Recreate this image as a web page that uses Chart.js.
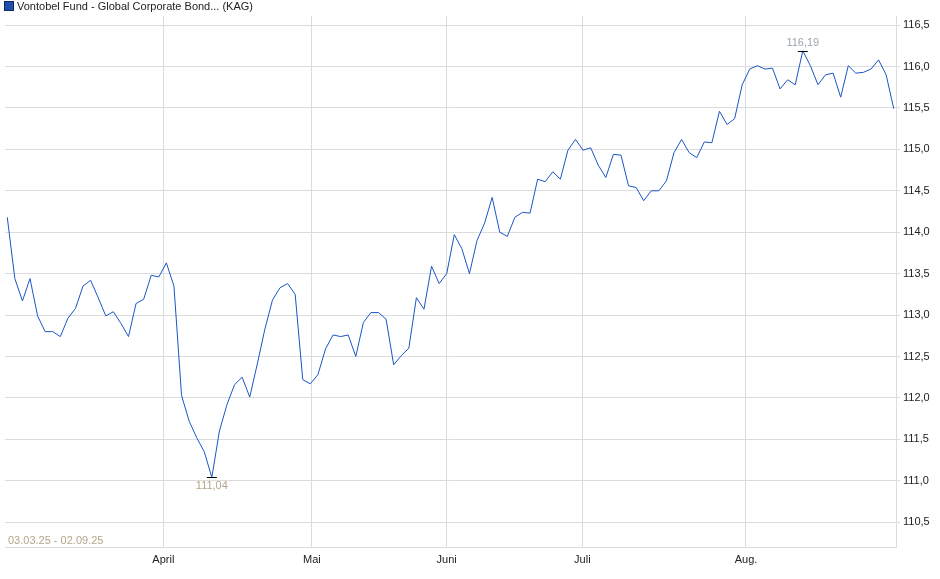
<!DOCTYPE html>
<html>
<head>
<meta charset="utf-8">
<script src="https://cdn.jsdelivr.net/npm/chart.js@4"></script>
<style>
  body { margin: 0; background: #fff; font-family: "Liberation Sans", Arial, sans-serif; }
  #wrap { position: relative; width: 940px; height: 579px; }
  #title { position: absolute; left: 4px; top: 0px; font-size: 11px; color: #222; line-height: 13px; }
  #title span { display: inline-block; width: 8px; height: 8px; background: #1f4fa8; border: 1px solid #0c2a66; margin-right: 3px; vertical-align: -1px; }
</style>
</head>
<body>
<div id="wrap">
  <div id="title"><span></span>Vontobel Fund - Global Corporate Bond... (KAG)</div>
  <canvas id="chart" width="940" height="579"></canvas>
</div>
<script>
// Kursverlauf
const prices = [
  114.18, 113.44, 113.17, 113.44, 112.99, 112.80, 112.80, 112.74, 112.96, 113.08,
  113.35, 113.42, 113.21, 112.99, 113.04, 112.90, 112.74, 113.14, 113.19, 113.48,
  113.46, 113.63, 113.35, 112.03, 111.72, 111.52, 111.35, 111.04, 111.60, 111.92,
  112.16, 112.25, 112.01, 112.41, 112.83, 113.18, 113.33, 113.38, 113.25, 112.22,
  112.17, 112.28, 112.59, 112.76, 112.74, 112.76, 112.50, 112.91, 113.03, 113.03,
  112.95, 112.40, 112.51, 112.60, 113.21, 113.07, 113.59, 113.38, 113.50, 113.97,
  113.80, 113.50, 113.90, 114.11, 114.42, 114.00, 113.95, 114.18, 114.24, 114.23,
  114.64, 114.61, 114.73, 114.64, 114.99, 115.12, 114.99, 115.02, 114.81, 114.66,
  114.94, 114.93, 114.56, 114.54, 114.38, 114.50, 114.50, 114.62, 114.96, 115.12,
  114.96, 114.90, 115.09, 115.08, 115.46, 115.30, 115.37, 115.78, 115.97, 116.01,
  115.97, 115.98, 115.73, 115.84, 115.78, 116.19, 116.01, 115.78, 115.90, 115.92,
  115.63, 116.01, 115.92, 115.93, 115.97, 116.08, 115.90, 115.49
];
const monthLabels = ['April', 'Mai', 'Juni', 'Juli', 'Aug.'];
const monthIndex = [20.6, 40.2, 58.0, 75.9, 97.5];
const yTicks = [110.5, 111.0, 111.5, 112.0, 112.5, 113.0, 113.5, 114.0, 114.5, 115.0, 115.5, 116.0, 116.5];
const periodText = '03.03.25 - 02.09.25';

const fmt = v => v.toFixed(2).replace('.', ',');

// Min/Max-Beschriftung und Zeitraum
const extremaPlugin = {
  id: 'extrema',
  afterDatasetsDraw(chart) {
    const { ctx, scales: { x, y }, chartArea } = chart;
    const maxV = Math.max(...prices), minV = Math.min(...prices);
    const iMax = prices.indexOf(maxV), iMin = prices.indexOf(minV);
    ctx.save();
    ctx.font = '11px "Liberation Sans", Arial, sans-serif';
    ctx.textAlign = 'center';
    ctx.strokeStyle = '#000';
    ctx.lineWidth = 1;
    [[iMax, maxV, -1, '#9aa5b0'], [iMin, minV, 1, '#b5a58a']].forEach(([i, v, dir, col]) => {
      const px = x.getPixelForValue(i), py = Math.round(y.getPixelForValue(v)) + 0.5;
      ctx.beginPath(); ctx.moveTo(px - 5, py); ctx.lineTo(px + 5, py); ctx.stroke();
      ctx.fillStyle = col;
      ctx.textBaseline = dir < 0 ? 'bottom' : 'top';
      ctx.fillText(fmt(v), px, py + dir * 3);
    });
    ctx.fillStyle = '#b5a58a';
    ctx.textAlign = 'left';
    ctx.textBaseline = 'bottom';
    ctx.fillText(periodText, chartArea.left + 3, chartArea.bottom - 1);
    ctx.restore();
  }
};

new Chart(document.getElementById('chart').getContext('2d'), {
  type: 'line',
  data: {
    datasets: [{
      data: prices.map((p, i) => ({ x: i, y: p })),
      borderColor: '#1a56c4',
      borderWidth: 1,
      pointRadius: 0,
      tension: 0
    }]
  },
  options: {
    responsive: false,
    animation: false,
    layout: { padding: { left: 5, top: 16, right: 0, bottom: 0 } },
    plugins: { legend: { display: false }, tooltip: { enabled: false } },
    scales: {
      x: {
        type: 'linear',
        min: -0.3,
        max: prices.length - 0.7,
        afterBuildTicks: axis => { axis.ticks = monthIndex.map(v => ({ value: v })); },
        afterFit: axis => { axis.height = 32; },
        grid: { color: '#dcdcdc', drawTicks: false },
        border: { color: '#dcdcdc' },
        ticks: {
          color: '#222',
          font: { size: 11, family: '"Liberation Sans", Arial, sans-serif' },
          padding: 6,
          maxRotation: 0,
          autoSkip: false,
          callback: (v, idx) => monthLabels[idx]
        }
      },
      y: {
        position: 'right',
        min: 110.2,
        max: 116.61,
        afterBuildTicks: axis => { axis.ticks = yTicks.map(v => ({ value: v })); },
        afterFit: axis => { axis.width = 44; },
        grid: { color: '#dcdcdc', drawTicks: true, tickLength: 4 },
        border: { color: '#dcdcdc' },
        ticks: {
          color: '#222',
          font: { size: 11, family: '"Liberation Sans", Arial, sans-serif' },
          padding: 3,
          callback: v => v.toFixed(1).replace('.', ',')
        }
      }
    }
  },
  plugins: [extremaPlugin]
});
</script>
</body>
</html>
